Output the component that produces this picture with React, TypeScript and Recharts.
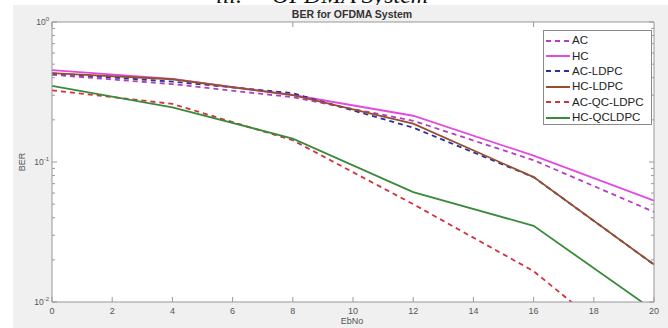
import { LineChart, Line, XAxis, YAxis, CartesianGrid, Legend } from 'recharts'

// EbNo sample points and BER values
const ebno = [0, 4, 8, 12, 16, 20]
const ac = [0.42, 0.36, 0.29, 0.197, 0.103, 0.044]
const hc = [0.453, 0.392, 0.301, 0.214, 0.111, 0.053]
const acLdpc = [0.43, 0.375, 0.31, 0.176, 0.078, 0.0185]
const hcLdpc = [0.432, 0.39, 0.3, 0.188, 0.078, 0.0185]
const acQcLdpc = [0.325, 0.26, 0.143, 0.05, 0.0166, 0.0033]
const hcQcLdpc = [0.35, 0.246, 0.147, 0.061, 0.035, 0.0087]

const xTicks = [0, 2, 4, 6, 8, 10, 12, 14, 16, 18, 20]
const yTicks = [
  0.01, 0.02, 0.03, 0.04, 0.05, 0.06, 0.07, 0.08, 0.09,
  0.1, 0.2, 0.3, 0.4, 0.5, 0.6, 0.7, 0.8, 0.9, 1,
]
const decadeLabels: Record<string, string> = { '0.01': '-2', '0.1': '-1', '1': '0' }

const series = [
  { key: 'AC', values: ac, color: '#b63cc0', dash: '5 4' },
  { key: 'HC', values: hc, color: '#e24ae0', dash: undefined },
  { key: 'AC-LDPC', values: acLdpc, color: '#2e2e9e', dash: '5 4' },
  { key: 'HC-LDPC', values: hcLdpc, color: '#95502e', dash: undefined },
  { key: 'AC-QC-LDPC', values: acQcLdpc, color: '#d4303e', dash: '5 4' },
  { key: 'HC-QCLDPC', values: hcQcLdpc, color: '#3a8a3a', dash: undefined },
]

const data = ebno.map((x, i) => {
  const row: Record<string, number> = { ebno: x }
  series.forEach(s => { row[s.key] = s.values[i] })
  return row
})

const AXIS = '#9a9a9a'
const LABEL = '#555'
const FONT = '"Liberation Sans", Arial, sans-serif'

function LeftTick({ x, y, payload }: any) {
  const exp = decadeLabels[String(payload.value)]
  const len = exp ? 5 : 3
  return (
    <g>
      <line x1={x} x2={x + len} y1={y} y2={y} stroke={AXIS} />
      {exp && (
        <text x={x - 3} y={y + 3} textAnchor="end" fontSize={8.5} fill={LABEL} fontFamily={FONT}>
          10<tspan dy={-4} fontSize={6}>{exp}</tspan>
        </text>
      )}
    </g>
  )
}

function RightTick({ x, y, payload }: any) {
  const len = decadeLabels[String(payload.value)] ? 5 : 3
  return <line x1={x} x2={x - len} y1={y} y2={y} stroke={AXIS} />
}

function BottomTick({ x, y, payload }: any) {
  return (
    <g>
      <line x1={x} x2={x} y1={y} y2={y - 5} stroke={AXIS} />
      <text x={x} y={y + 12} textAnchor="middle" fontSize={9} fill={LABEL} fontFamily={FONT}>
        {payload.value}
      </text>
    </g>
  )
}

function TopTick({ x, y }: any) {
  return <line x1={x} x2={x} y1={y} y2={y + 5} stroke={AXIS} />
}

function renderLegend() {
  return (
    <div
      style={{
        width: 109,
        height: 95,
        border: '1px solid #8a8a8a',
        background: '#fff',
        boxSizing: 'border-box',
        paddingTop: 2,
      }}
    >
      {series.map(s => (
        <div key={s.key} style={{ display: 'flex', alignItems: 'center', height: 15.4 }}>
          <svg width={26} height={6} style={{ marginLeft: 2 }}>
            <line x1={0} x2={24} y1={3} y2={3} stroke={s.color} strokeWidth={2} strokeDasharray={s.dash} />
          </svg>
          <span style={{ fontFamily: FONT, fontSize: 11.5, color: '#222', lineHeight: '15px' }}>{s.key}</span>
        </div>
      ))}
    </div>
  )
}

export default function App() {
  return (
    <div style={{ position: 'fixed', left: 0, top: 0, width: 668, height: 328, background: '#fff', overflow: 'hidden' }}>
      {/* cut-off caption above the figure, partly hidden by the figure */}
      <div
        style={{
          position: 'absolute',
          left: 216,
          top: -17,
          lineHeight: '24px',
          fontFamily: '"Liberation Serif", serif',
          fontStyle: 'italic',
          fontSize: 24,
          whiteSpace: 'pre',
          color: '#111',
        }}
      >
        {'iii.     OFDMA System'}
      </div>
      {/* figure background */}
      <div style={{ position: 'absolute', left: 13, top: 5, width: 655, height: 323, background: '#f0f0f0' }} />
      <div style={{ position: 'absolute', left: 0, top: 0 }}>
        <LineChart width={668} height={328} data={data} margin={{ top: 0, right: 0, bottom: 0, left: 0 }}>
          <rect x={52} y={22} width={602} height={280} fill="#fff" />
          <CartesianGrid stroke="#e9e9e9" horizontalValues={yTicks} verticalValues={xTicks} />
          <XAxis
            dataKey="ebno"
            type="number"
            domain={[0, 20]}
            ticks={xTicks}
            height={26}
            stroke={AXIS}
            tickLine={false}
            tickSize={0}
            tickMargin={0}
            tick={<BottomTick />}
            interval={0}
          />
          <XAxis
            xAxisId="top"
            orientation="top"
            type="number"
            domain={[0, 20]}
            ticks={xTicks}
            height={22}
            stroke={AXIS}
            tickLine={false}
            tickSize={0}
            tickMargin={0}
            tick={<TopTick />}
            interval={0}
          />
          <YAxis
            scale="log"
            type="number"
            domain={[0.01, 1]}
            allowDataOverflow
            ticks={yTicks}
            width={52}
            stroke={AXIS}
            tickLine={false}
            tickSize={0}
            tickMargin={0}
            tick={<LeftTick />}
            interval={0}
          />
          <YAxis
            yAxisId="right"
            orientation="right"
            scale="log"
            type="number"
            domain={[0.01, 1]}
            allowDataOverflow
            ticks={yTicks}
            width={14}
            stroke={AXIS}
            tickLine={false}
            tickSize={0}
            tickMargin={0}
            tick={<RightTick />}
            interval={0}
          />
          {series.map(s => (
            <Line
              key={s.key}
              dataKey={s.key}
              stroke={s.color}
              strokeWidth={1.8}
              strokeDasharray={s.dash}
              dot={false}
              type="linear"
              isAnimationActive={false}
            />
          ))}
          <Legend
            layout="horizontal"
            verticalAlign="middle"
            align="center"
            content={renderLegend}
            wrapperStyle={{ top: 30, left: 543, width: 109 }}
          />
        </LineChart>
      </div>
      <div
        style={{
          position: 'absolute',
          left: 0,
          width: 704,
          top: 8,
          textAlign: 'center',
          fontFamily: FONT,
          fontWeight: 'bold',
          fontSize: 10.5,
          color: '#333',
        }}
      >
        BER for OFDMA System
      </div>
      <div
        style={{
          position: 'absolute',
          left: 0,
          width: 704,
          top: 316,
          textAlign: 'center',
          fontFamily: FONT,
          fontSize: 9,
          color: LABEL,
        }}
      >
        EbNo
      </div>
      <div
        style={{
          position: 'absolute',
          left: 22,
          top: 162,
          transform: 'translate(-50%, -50%) rotate(-90deg)',
          fontFamily: FONT,
          fontSize: 9,
          color: LABEL,
        }}
      >
        BER
      </div>
    </div>
  )
}
